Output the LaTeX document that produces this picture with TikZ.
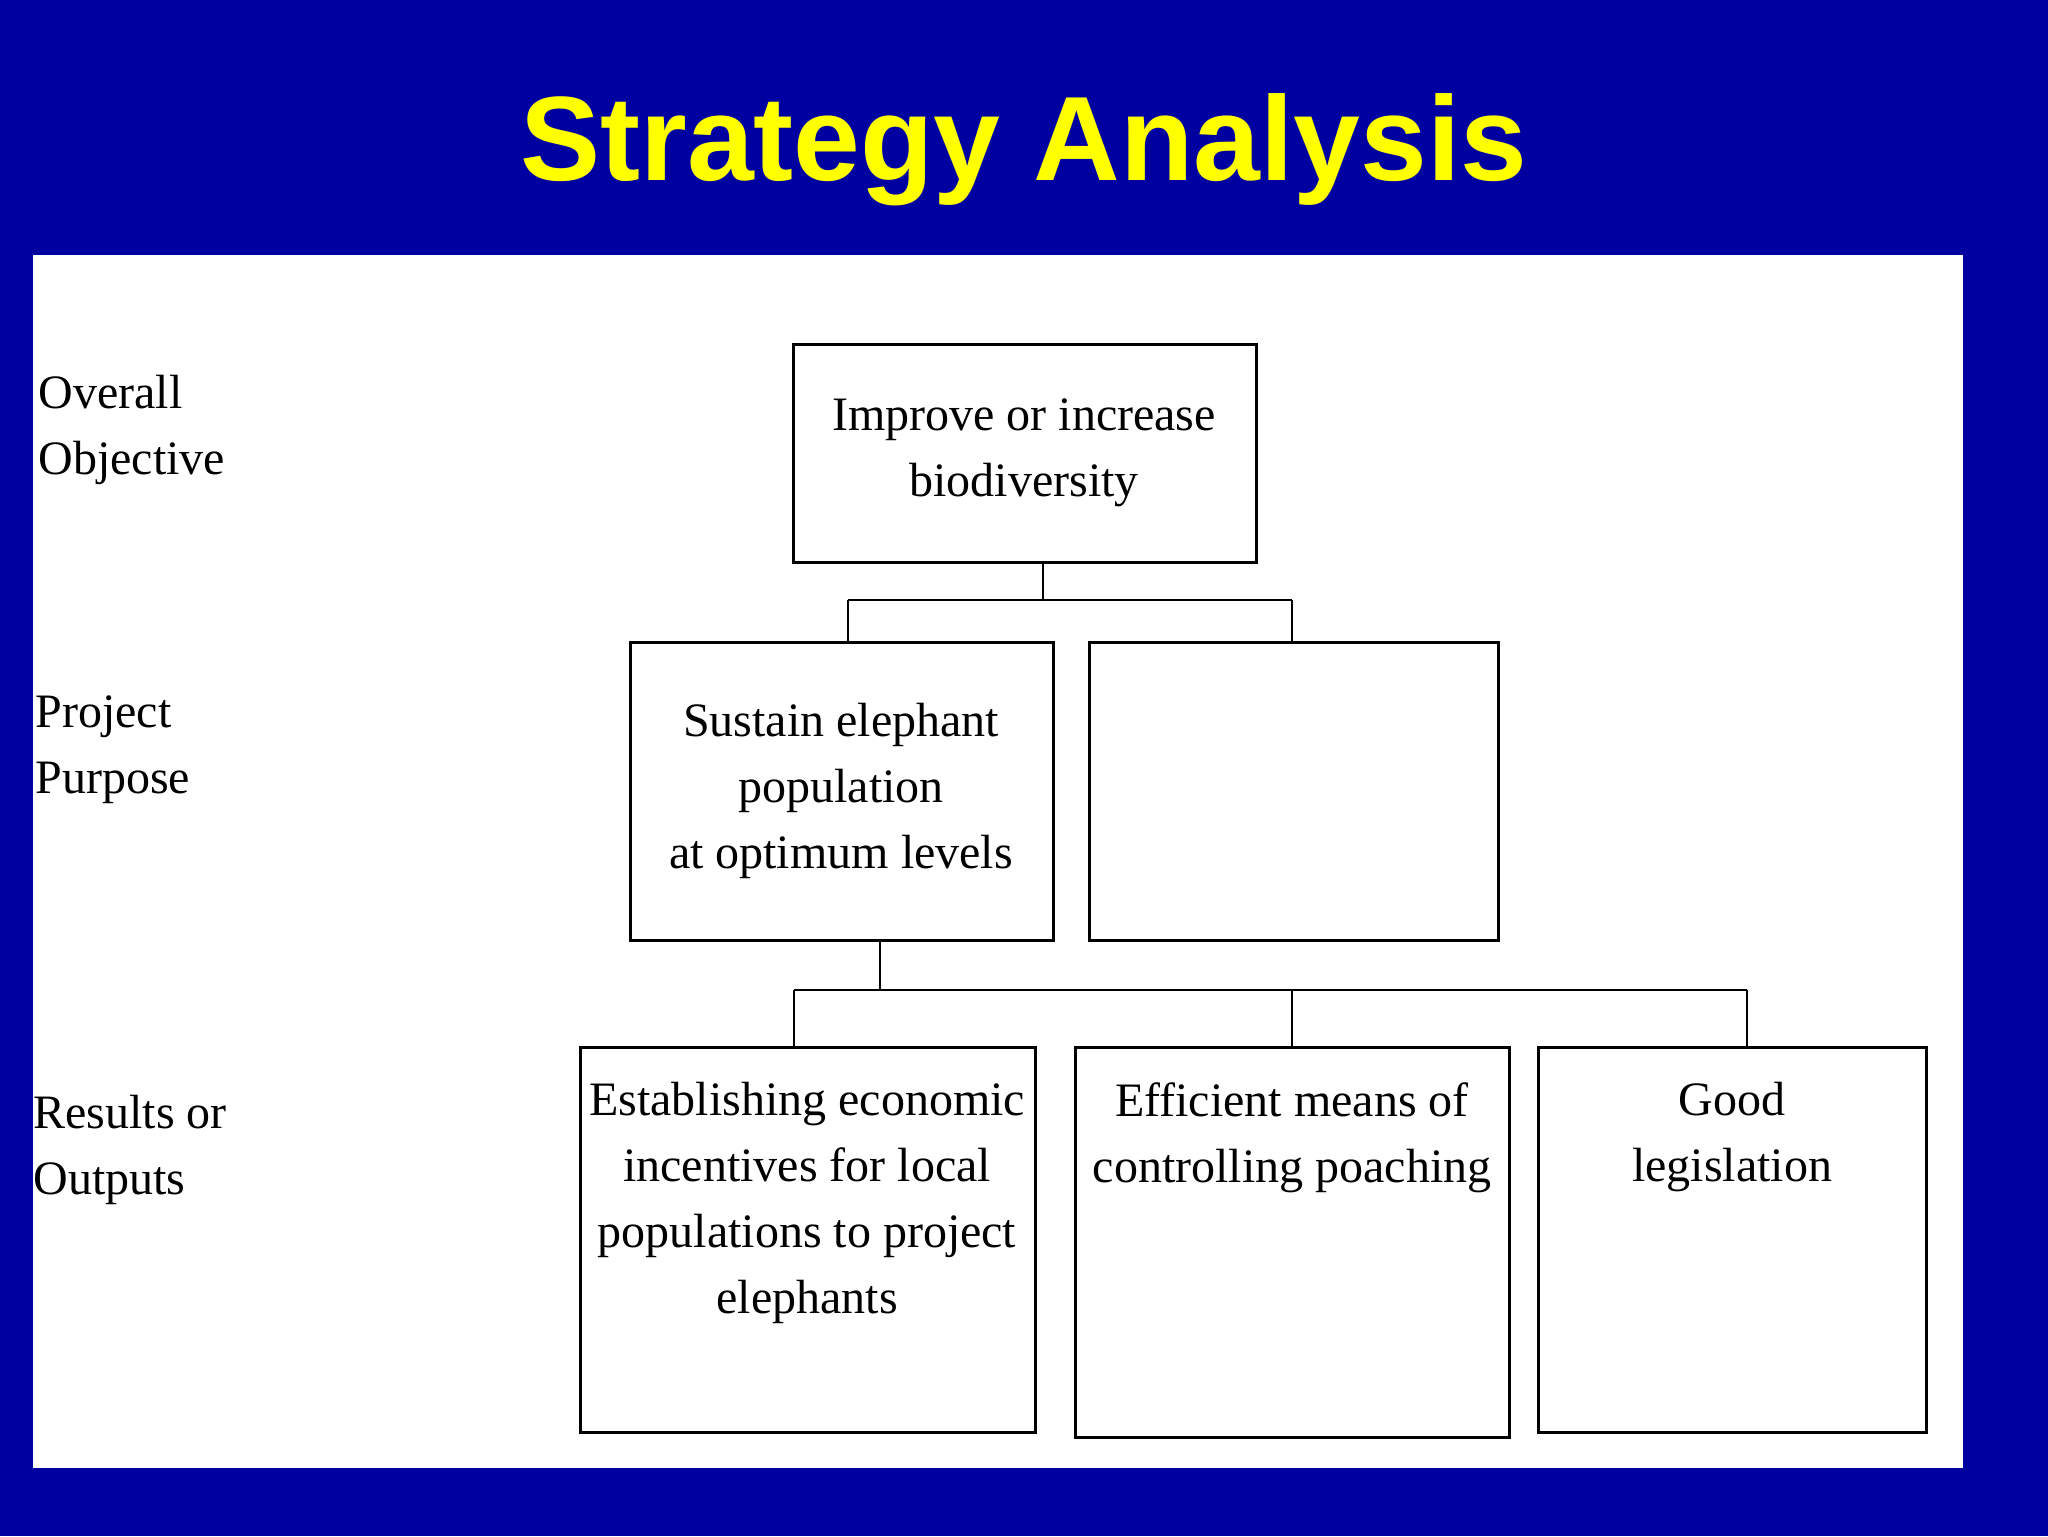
\documentclass[tikz,border=0pt]{standalone}
\usepackage{fontspec}
\setmainfont{Liberation Serif}
\newfontfamily\titlefont{Liberation Sans}
\definecolor{bgblue}{HTML}{0000A0}
\definecolor{ttl}{HTML}{FFFF00}
\begin{document}
\begin{tikzpicture}[x=0.5pt,y=-0.5pt,
 bx/.style={draw,line width=1.5pt},
 txt/.style={align=center,font=\fontsize{24}{33}\selectfont,inner sep=0},
 lbl/.style={align=left,anchor=north west,font=\fontsize{24}{33}\selectfont,inner sep=0},
 ln/.style={line width=1.2pt}]
\fill[bgblue] (0,0) rectangle (2048,1536);
\useasboundingbox (0,0) rectangle (2048,1536);
\fill[white] (33,255) rectangle (1963,1468);
\node[font=\titlefont\bfseries\fontsize{60}{70}\selectfont,text=ttl] (title) at (1024,150) {Strategy Analysis};
\draw[bx] (793,344) rectangle (1256,562);
\node[txt] (t1) at (1024,453) {Improve or increase\\biodiversity};
\draw[bx] (630,642) rectangle (1053,940);
\node[txt] (t2) at (841,791) {Sustain elephant\\population\\at optimum levels};
\draw[bx] (1089,642) rectangle (1498,940);
\draw[bx] (580,1047) rectangle (1035,1432);
\node[txt,anchor=north] (t4) at (807,1082) {Establishing economic\\incentives for local\\populations to project\\elephants};
\draw[bx] (1075,1047) rectangle (1509,1437);
\node[txt,anchor=north] (t5) at (1292,1082) {Efficient means of\\controlling poaching};
\draw[bx] (1538,1047) rectangle (1926,1432);
\node[txt,anchor=north] (t6) at (1732,1082) {Good\\legislation};
\coordinate (a1) at (1043,562); \coordinate (a2) at (1043,600);
\coordinate (l1) at (848,600); \coordinate (r1) at (1292,600);
\draw[ln] (a1)--(a2) (l1)--(r1) (l1)--(848,642) (r1)--(1292,642);
\coordinate (b1) at (880,940); \coordinate (b2) at (880,990);
\coordinate (l2) at (794,990); \coordinate (r2) at (1747,990);
\draw[ln] (b1)--(b2) (l2)--(r2) (l2)--(794,1047) (1292,990)--(1292,1047) (r2)--(1747,1047);
\node[lbl] (o) at (38,375) {Overall\\Objective};
\node[lbl] (p) at (35,695) {Project\\Purpose};
\node[lbl] (r) at (33,1095) {Results or\\Outputs};
\end{tikzpicture}
\end{document}
